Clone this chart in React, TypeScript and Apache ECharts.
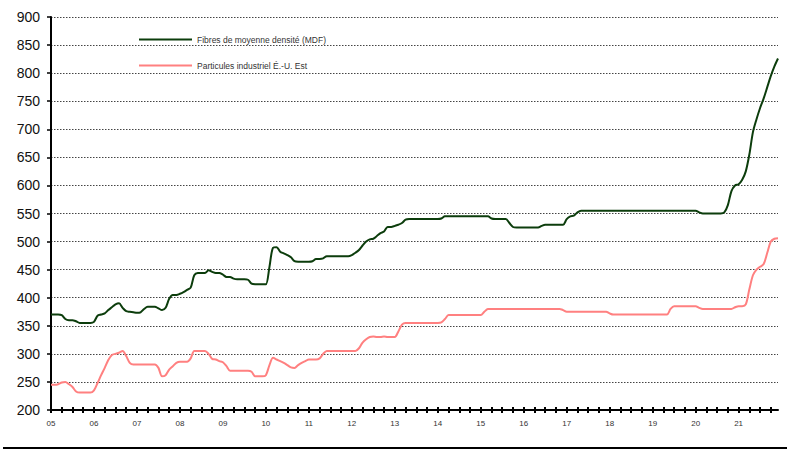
import React, { useEffect, useRef } from "react";
import * as echarts from "echarts";

// Years shown on the x axis (monthly data, Jan 2005 .. Dec 2021)
const years: number[] = [2005, 2006, 2007, 2008, 2009, 2010, 2011, 2012, 2013, 2014, 2015, 2016, 2017, 2018, 2019, 2020, 2021];

const seriesNames: string[] = ["Fibres de moyenne densité (MDF)", "Particules industriel É.-U. Est"];

// Monthly values, one row per year
const mdf: number[] = [
  370, 370, 370, 369, 362, 360, 360, 358, 355, 355, 355, 355,
  357, 368, 370, 372, 378, 383, 388, 390, 382, 376, 375, 374,
  373, 374, 380, 384, 384, 384, 381, 378, 382, 398, 405, 405,
  407, 410, 414, 418, 440, 444, 444, 444, 449, 446, 444, 444,
  441, 437, 437, 434, 433, 433, 433, 432, 425, 424, 424, 424,
  424, 455, 489, 490, 482, 479, 476, 472, 465, 464, 464, 464,
  464, 465, 469, 469, 470, 474, 474, 474, 474, 474, 474, 474,
  476, 480, 485, 493, 500, 504, 505, 510, 515, 518, 526, 526,
  528, 530, 533, 539, 540, 540, 540, 540, 540, 540, 540, 540,
  540, 541, 545, 545, 545, 545, 545, 545, 545, 545, 545, 545,
  545, 545, 545, 541, 540, 540, 540, 540, 533, 526, 525, 525,
  525, 525, 525, 525, 525, 528, 530, 530, 530, 530, 530, 530,
  540, 545, 546, 552, 555, 555, 555, 555, 555, 555, 555, 555,
  555, 555, 555, 555, 555, 555, 555, 555, 555, 555, 555, 555,
  555, 555, 555, 555, 555, 555, 555, 555, 555, 555, 555, 555,
  555, 552, 550, 550, 550, 550, 550, 550, 552, 565, 590, 600,
  602, 610, 625, 655, 695, 718, 738, 755, 775, 795, 812, 826,
];

const particles: number[] = [
  245, 245, 246, 249, 250, 246, 241, 233, 231, 231, 231, 231,
  235, 248, 262, 275, 289, 298, 300, 302, 305, 296, 284, 281,
  281, 281, 281, 281, 281, 281, 275, 260, 262, 272, 278, 284,
  286, 286, 286, 292, 305, 305, 305, 305, 300, 291, 290, 287,
  285, 278, 270, 270, 270, 270, 270, 270, 268, 260, 260, 260,
  262, 280, 293, 290, 287, 284, 280, 276, 275, 280, 284, 287,
  290, 290, 290, 292, 300, 305, 305, 305, 305, 305, 305, 305,
  305, 305, 310, 320, 326, 330, 331, 330, 330, 331, 330, 330,
  330, 340, 352, 355, 355, 355, 355, 355, 355, 355, 355, 355,
  355, 356, 362, 369, 369, 369, 369, 369, 369, 369, 369, 369,
  369, 375, 380, 380, 380, 380, 380, 380, 380, 380, 380, 380,
  380, 380, 380, 380, 380, 380, 380, 380, 380, 380, 380, 378,
  375, 375, 375, 375, 375, 375, 375, 375, 375, 375, 375, 375,
  372, 370, 370, 370, 370, 370, 370, 370, 370, 370, 370, 370,
  370, 370, 370, 370, 370, 380, 385, 385, 385, 385, 385, 385,
  385, 382, 380, 380, 380, 380, 380, 380, 380, 380, 380, 383,
  385, 385, 388, 415, 440, 450, 455, 460, 480, 500, 505, 506,
];

const yTicks = { min: 200, max: 900, interval: 50 };

const categories: string[] = [];
years.forEach((y) => {
  for (let m = 1; m <= 12; m++) {
    categories.push(String(y % 100).padStart(2, "0") + "-" + String(m).padStart(2, "0"));
  }
});

export default function App() {
  const ref = useRef<HTMLDivElement>(null);
  useEffect(() => {
    document.body.style.margin = "0";
    const chart = echarts.init(ref.current!, null, { renderer: "svg" });
    const font = "Liberation Sans, Arial, sans-serif";
    chart.setOption({
      animation: false,
      backgroundColor: "#ffffff",
      grid: { left: 51, right: 14, top: 17, bottom: 39, containLabel: false },
      legend: {
        orient: "vertical",
        left: 134,
        top: 30,
        itemWidth: 53,
        itemHeight: 14,
        itemGap: 17,
        icon: "path://M0,6 L53,6 L53,8 L0,8 Z",
        data: seriesNames,
        textStyle: { fontFamily: font, fontSize: 8.5, color: "#333" },
      },
      xAxis: [
        {
          type: "category",
          data: categories,
          boundaryGap: false,
          axisLine: { lineStyle: { color: "#000", width: 2 } },
          axisTick: { interval: 2, length: 3, inside: false, lineStyle: { color: "#000", width: 2 } },
          axisLabel: {
            interval: 11,
            fontFamily: font,
            fontSize: 8,
            color: "#333",
            margin: 9,
            formatter: (v: string) => v.split("-")[0],
          },
          splitLine: { show: false },
        },
        {
          type: "category",
          data: categories,
          boundaryGap: false,
          position: "bottom",
          axisLine: { show: false },
          axisTick: { interval: 2, length: 3, inside: true, lineStyle: { color: "#000", width: 2 } },
          axisLabel: { show: false },
          splitLine: { show: false },
        },
      ],
      yAxis: {
        type: "value",
        min: yTicks.min,
        max: yTicks.max,
        interval: yTicks.interval,
        axisLine: { show: true, lineStyle: { color: "#000", width: 2 } },
        axisTick: { show: true, length: 4, lineStyle: { color: "#000", width: 1.5 } },
        axisLabel: { fontFamily: font, fontSize: 14, color: "#111", margin: 11 },
        splitLine: { show: true, lineStyle: { color: "#444", width: 1, type: [1.5, 1.5] } },
      },
      series: [
        {
          name: seriesNames[0],
          type: "line",
          data: mdf,
          symbol: "none",
          smooth: 0.3,
          lineStyle: { color: "#0c3d0c", width: 2 },
          itemStyle: { color: "#0c3d0c" },
        },
        {
          name: seriesNames[1],
          type: "line",
          data: particles,
          symbol: "none",
          smooth: 0.3,
          lineStyle: { color: "#ff8080", width: 2 },
          itemStyle: { color: "#ff8080" },
        },
      ],
      graphic: [
        {
          type: "line",
          shape: { x1: 3, y1: 448, x2: 787, y2: 448 },
          style: { stroke: "#000", lineWidth: 2 },
        },
      ],
    });
    return () => chart.dispose();
  }, []);
  return <div ref={ref} style={{ position: "fixed", left: 0, top: 0, width: 792, height: 449 }} />;
}
